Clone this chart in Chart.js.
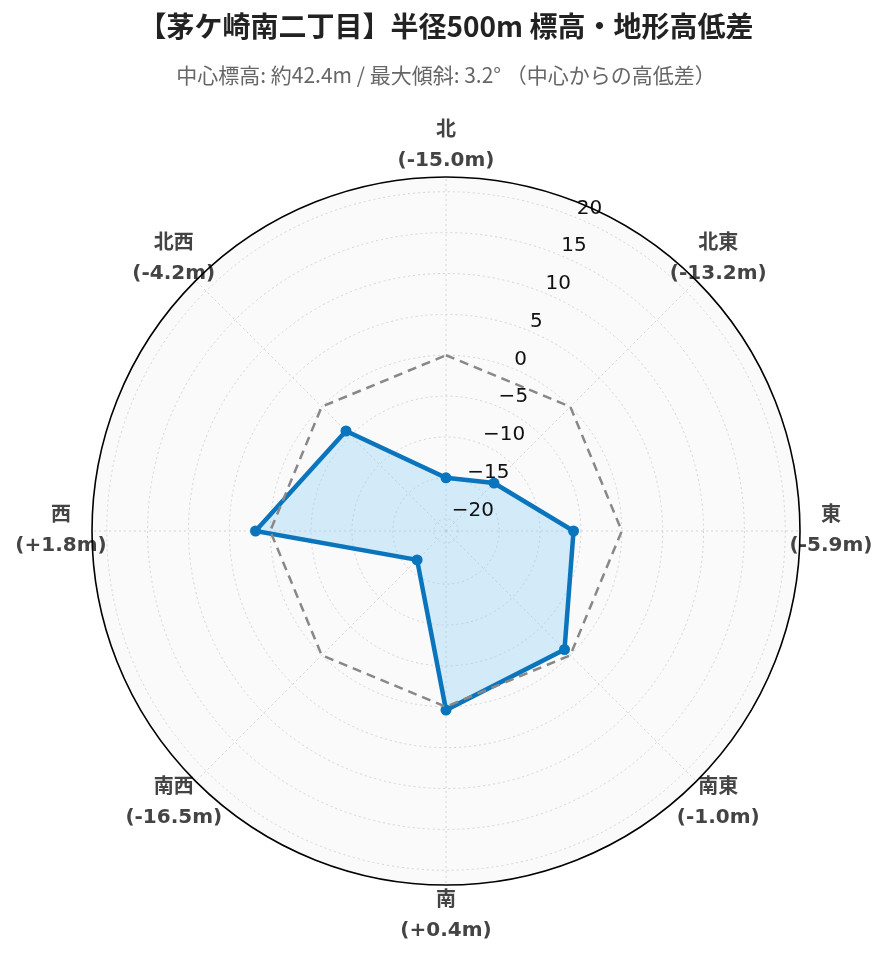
<!DOCTYPE html>
<html>
<head>
<meta charset="utf-8">
<script src="https://cdn.jsdelivr.net/npm/chart.js@4/dist/chart.umd.min.js"></script>
<style>
  html, body { margin: 0; padding: 0; background: #ffffff; }
  canvas { display: block; }
</style>
</head>
<body>
<canvas id="c" width="889" height="962"></canvas>
<script>
// ---- data ----
const directions = ['北', '北東', '東', '南東', '南', '南西', '西', '北西'];
const elevationDiff = [-15.0, -13.2, -5.9, -1.0, 0.4, -16.5, 1.8, -4.2];
const referenceLine = [0, 0, 0, 0, 0, 0, 0, 0];
const tickValues = [-20, -15, -10, -5, 0, 5, 10, 15, 20];
const rangeMin = -21.5;
const rangeMax = 21.8;
const titleText = '【茅ケ崎南二丁目】半径500m 標高・地形高低差';
const subtitleText = '中心標高: 約42.4m / 最大傾斜: 3.2° （中心からの高低差）';

function fmtDiff(v) {
  return '(' + (v >= 0 ? '+' : '-') + Math.abs(v).toFixed(1) + 'm)';
}

const polarDecor = {
  id: 'polarDecor',
  beforeDraw(chart) {
    const s = chart.scales.r;
    const ctx = chart.ctx;
    ctx.save();
    ctx.beginPath();
    ctx.arc(s.xCenter, s.yCenter, s.drawingArea, 0, Math.PI * 2);
    ctx.fillStyle = '#fafafa';
    ctx.fill();
    ctx.restore();
  },
  afterDatasetsDraw(chart) {
    const s = chart.scales.r;
    const ctx = chart.ctx;
    ctx.save();
    // radial tick labels along a tilted axis
    ctx.font = '20px "DejaVu Sans"';
    ctx.fillStyle = '#111111';
    ctx.textAlign = 'left';
    ctx.textBaseline = 'alphabetic';
    tickValues.forEach(v => {
      const p = s.getPointPosition(0.5, s.getDistanceFromCenterForValue(v));
      const txt = (v < 0 ? '\u2212' + Math.abs(v) : String(v));
      ctx.fillText(txt, p.x + 1, p.y - 4);
    });
    // direction labels
    ctx.font = 'bold 20px "DejaVu Sans", "Noto Sans CJK JP"';
    ctx.fillStyle = '#444444';
    ctx.textAlign = 'center';
    ctx.textBaseline = 'middle';
    directions.forEach((d, i) => {
      const p = s.getPointPosition(i, s.drawingArea + 31);
      ctx.fillText(d, p.x, p.y - 15);
      ctx.fillText(fmtDiff(elevationDiff[i]), p.x, p.y + 15);
    });
    // outer boundary
    ctx.beginPath();
    ctx.arc(s.xCenter, s.yCenter, s.drawingArea, 0, Math.PI * 2);
    ctx.strokeStyle = '#000000';
    ctx.lineWidth = 1.6;
    ctx.stroke();
    ctx.restore();
  }
};

new Chart(document.getElementById('c'), {
  type: 'radar',
  data: {
    labels: directions,
    datasets: [
      {
        label: '基準 (0m)',
        data: referenceLine,
        borderColor: '#888888',
        borderWidth: 2.5,
        borderDash: [9, 6],
        pointRadius: 0,
        fill: false,
        tension: 0
      },
      {
        label: '高低差',
        data: elevationDiff,
        borderColor: '#0a75bc',
        backgroundColor: 'rgba(135, 206, 250, 0.33)',
        borderWidth: 4.5,
        pointRadius: 5.5,
        pointBackgroundColor: '#0a75bc',
        pointBorderColor: '#0a75bc',
        pointBorderWidth: 0,
        fill: 'start',
        tension: 0
      }
    ]
  },
  options: {
    responsive: false,
    animation: false,
    layout: { padding: { left: 91, right: 88, top: 0, bottom: 76 } },
    plugins: {
      legend: { display: false },
      tooltip: { enabled: false },
      title: {
        display: true,
        text: titleText,
        color: '#222222',
        font: { family: '"Noto Sans CJK JP"', size: 28, weight: 'bold' },
        padding: { top: 10, bottom: 0 }
      },
      subtitle: {
        display: true,
        text: subtitleText,
        color: '#666666',
        font: { family: '"Noto Sans CJK JP"', size: 21, weight: 'normal' },
        padding: { top: 19, bottom: 88.4 }
      }
    },
    scales: {
      r: {
        min: rangeMin,
        max: rangeMax,
        startAngle: 0,
        afterBuildTicks(scale) {
          scale.ticks = tickValues.map(v => ({ value: v }));
        },
        ticks: { display: false },
        pointLabels: { display: false },
        grid: { circular: true, color: '#d4d4d4', lineWidth: 1 },
        border: { dash: [2, 3] },
        angleLines: { color: '#d4d4d4', lineWidth: 1, borderDash: [2, 3] }
      }
    }
  },
  plugins: [polarDecor]
});
</script>
</body>
</html>
